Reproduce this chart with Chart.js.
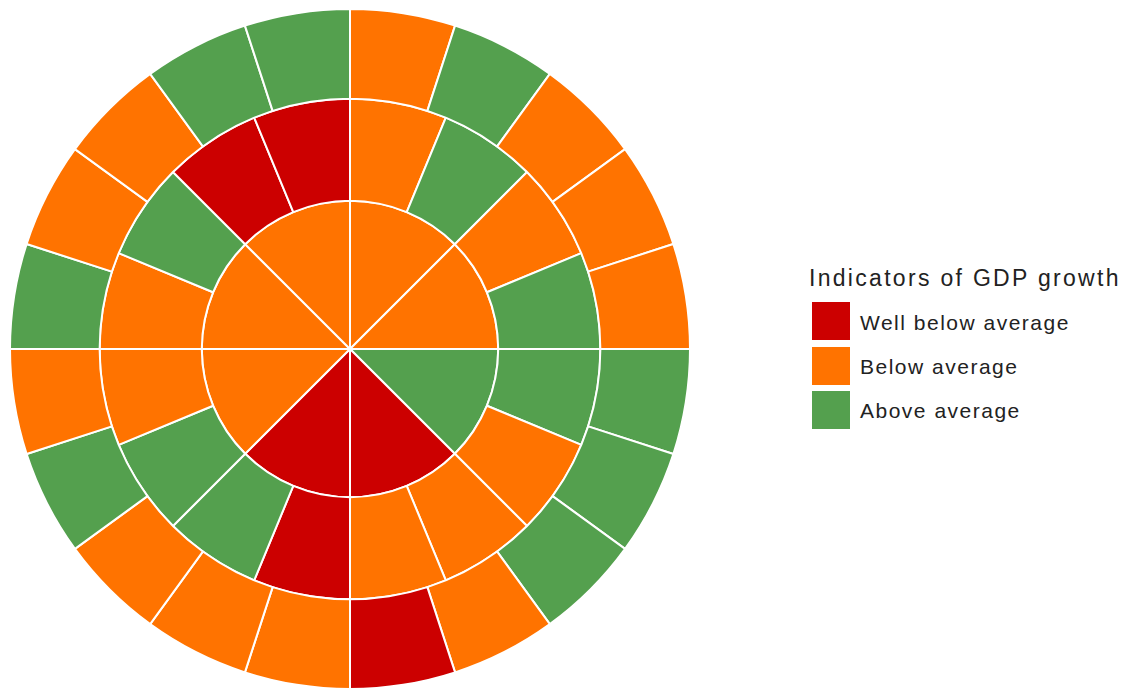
<!DOCTYPE html>
<html>
<head>
<meta charset="utf-8">
<script src="https://cdn.jsdelivr.net/npm/chart.js@4/dist/chart.umd.min.js"></script>
<style>
  html, body { margin: 0; padding: 0; background: #ffffff; }
  body { width: 1134px; height: 693px; position: relative; overflow: hidden; font-family: "Liberation Sans", Arial, sans-serif; }
  #wrap { position: absolute; left: 0; top: 0; width: 700px; height: 693px; }
  #legendTitle { position: absolute; left: 809px; top: 266.5px; font-size: 23px; line-height: 23px; letter-spacing: 2.3px; color: #222; white-space: nowrap; }
  .lg-box { position: absolute; left: 812px; width: 38px; height: 38px; }
  .lg-text { position: absolute; left: 860px; font-size: 21px; line-height: 21px; letter-spacing: 1.5px; color: #222; white-space: nowrap; }
</style>
</head>
<body>
<div id="wrap"><canvas id="c"></canvas></div>
<div id="legendTitle">Indicators of GDP growth</div>
<div id="legend"></div>
<script>
// Categories (colour levels)
const levels = ['Well below average', 'Below average', 'Above average'];
const levelColors = ['#CC0000', '#FF7300', '#54A04E'];
const legendTitle = 'Indicators of GDP growth';

// Ring contents, clockwise from 12 o'clock (0 = well below, 1 = below, 2 = above)
const outerRing  = [1, 2, 1, 1, 1,  2, 2, 2, 1, 0,  1, 1, 1, 2, 1,  2, 1, 1, 2, 2];
const middleRing = [1, 2, 1, 2,  2, 1, 1, 1,  0, 2, 2, 1,  1, 2, 0, 0];
const innerRing  = [1, 1, 2, 0,  0, 1, 1, 1];

function ringDataset(ring, weight) {
  return {
    data: ring.map(() => 1),
    backgroundColor: ring.map(l => levelColors[l]),
    borderColor: '#ffffff',
    borderWidth: 2,
    hoverOffset: 0,
    weight: weight,
    levelLabels: ring.map(l => levels[l])
  };
}

new Chart(document.getElementById('c'), {
  type: 'doughnut',
  data: {
    labels: outerRing.map((_, i) => 'Segment ' + (i + 1)),
    datasets: [
      ringDataset(outerRing, 89.5),
      ringDataset(middleRing, 102),
      ringDataset(innerRing, 148)
    ]
  },
  options: {
    responsive: true,
    maintainAspectRatio: false,
    animation: false,
    cutout: 0,
    radius: 340,
    layout: { padding: { top: 5, bottom: 0, left: 0, right: 0 } },
    plugins: {
      legend: { display: false },
      tooltip: { enabled: false }
    }
  }
});

// HTML legend built from the category arrays
const legendEl = document.getElementById('legend');
document.getElementById('legendTitle').textContent = legendTitle;
levels.forEach((name, i) => {
  const box = document.createElement('div');
  box.className = 'lg-box';
  box.style.top = (302 + i * 44.5) + 'px';
  box.style.background = levelColors[i];
  legendEl.appendChild(box);
  const t = document.createElement('div');
  t.className = 'lg-text';
  t.style.top = (312 + i * 44) + 'px';
  t.textContent = name;
  legendEl.appendChild(t);
});
</script>
</body>
</html>
